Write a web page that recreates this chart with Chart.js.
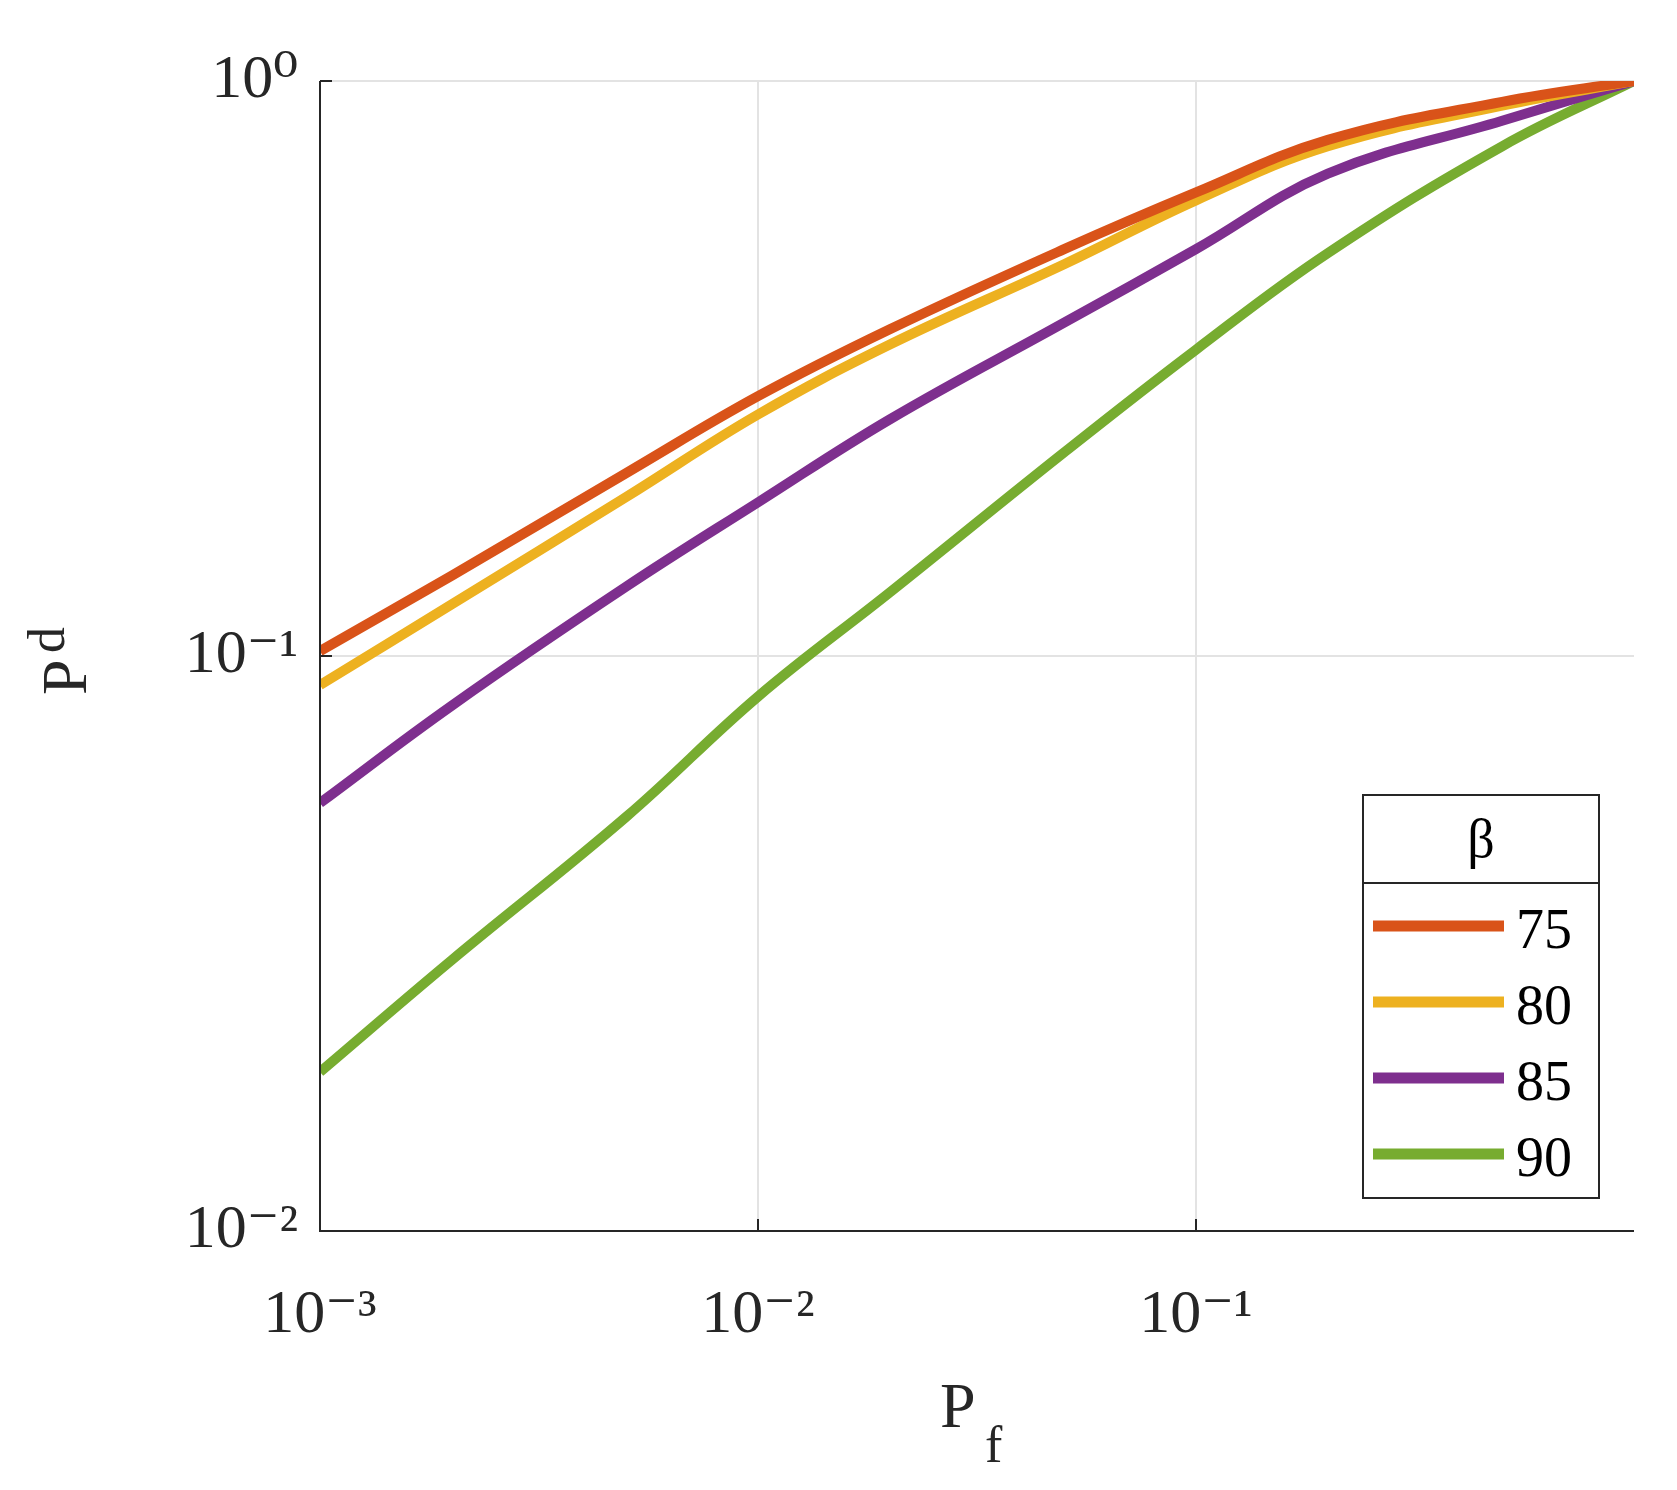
<!DOCTYPE html>
<html>
<head>
<meta charset="utf-8">
<script src="https://cdn.jsdelivr.net/npm/chart.js@4.4.0/dist/chart.umd.min.js"></script>
<style>
  html, body { margin: 0; padding: 0; background: #fff; }
  #wrap { width: 1677px; height: 1490px; }
</style>
</head>
<body>
<div id="wrap"><canvas id="chart" width="1677" height="1490"></canvas></div>
<script>
// Data
const pf = [0.001, 0.002, 0.005, 0.01, 0.02, 0.05, 0.1, 0.2, 0.5, 1];
const betaLabels = ['75', '80', '85', '90'];
const pd75 = [0.102, 0.138, 0.208, 0.283, 0.37, 0.51, 0.64, 0.79, 0.92, 1];
const pd80 = [0.089, 0.123, 0.189, 0.263, 0.348, 0.48, 0.62, 0.77, 0.906, 1];
const pd85 = [0.0555, 0.082, 0.132, 0.185, 0.258, 0.38, 0.51, 0.69, 0.853, 1];
const pd90 = [0.0189, 0.0296, 0.0525, 0.085, 0.129, 0.226, 0.341, 0.502, 0.77, 1];
const colors = ['#D95319', '#EDB120', '#7E2F8E', '#77AC30'];
const xTicks = [0.001, 0.01, 0.1];
const yTicks = [0.01, 0.1, 1];

const SERIF = '"Liberation Serif", "DejaVu Serif", serif';
const sup = { '-': '⁻', '0': '⁰', '1': '¹', '2': '²', '3': '³' };
function pow10Label(v) {
  const e = String(Math.round(Math.log10(v)));
  return '10' + e.split('').map(c => sup[c]).join('');
}

const allSeries = [pd75, pd80, pd85, pd90];
const datasets = allSeries.map((s, i) => ({
  label: betaLabels[i],
  data: pf.map((x, j) => ({ x: x, y: s[j] })),
  borderColor: colors[i],
  borderWidth: 10,
  pointRadius: 0,
  tension: 0.4,
  fill: false
}));

// Axis lines, axis titles and the boxed legend
const decorations = {
  id: 'decorations',
  afterDraw(chart) {
    const ctx = chart.ctx;
    const a = chart.chartArea;
    ctx.save();
    ctx.strokeStyle = '#262626';
    ctx.lineWidth = 2;
    ctx.beginPath();
    ctx.moveTo(a.left, a.top);
    ctx.lineTo(a.left, a.bottom);
    ctx.lineTo(a.right, a.bottom);
    ctx.stroke();
    // inward ticks
    chart.scales.x.ticks.forEach(t => {
      const px = chart.scales.x.getPixelForValue(t.value);
      ctx.beginPath(); ctx.moveTo(px, a.bottom); ctx.lineTo(px, a.bottom - 12); ctx.stroke();
    });
    chart.scales.y.ticks.forEach(t => {
      const py = chart.scales.y.getPixelForValue(t.value);
      ctx.beginPath(); ctx.moveTo(a.left, py); ctx.lineTo(a.left + 12, py); ctx.stroke();
    });

    // axis titles
    ctx.fillStyle = '#262626';
    ctx.font = '64px ' + SERIF;
    ctx.textBaseline = 'alphabetic';
    ctx.textAlign = 'left';
    ctx.fillText('P', 940, 1427);
    ctx.font = '52px ' + SERIF;
    ctx.fillText('f', 985, 1462);
    ctx.save();
    ctx.translate(86, 695);
    ctx.rotate(-Math.PI / 2);
    ctx.font = '64px ' + SERIF;
    ctx.fillText('P', 0, 0);
    ctx.font = '52px ' + SERIF;
    ctx.fillText('d', 42, -22);
    ctx.restore();

    // legend
    const lx = 1363, ly = 795, lw = 236, lh = 403, th = 88;
    ctx.fillStyle = '#fff';
    ctx.fillRect(lx, ly, lw, lh);
    ctx.strokeStyle = '#262626';
    ctx.lineWidth = 2;
    ctx.strokeRect(lx, ly, lw, lh);
    ctx.beginPath(); ctx.moveTo(lx, ly + th); ctx.lineTo(lx + lw, ly + th); ctx.stroke();
    ctx.fillStyle = '#000';
    ctx.font = '54px ' + SERIF;
    ctx.textAlign = 'center';
    ctx.fillText('β', lx + lw / 2, ly + 62);
    ctx.textAlign = 'left';
    chart.data.datasets.forEach((d, i) => {
      const y = 926 + i * 76;
      ctx.strokeStyle = d.borderColor;
      ctx.lineWidth = 11;
      ctx.beginPath(); ctx.moveTo(lx + 10, y); ctx.lineTo(lx + 141, y); ctx.stroke();
      ctx.fillStyle = '#000';
      ctx.font = '56px ' + SERIF;
      ctx.fillText(d.label, lx + 153, y + 22);
    });
    ctx.restore();
  }
};

new Chart(document.getElementById('chart'), {
  type: 'line',
  data: { datasets: datasets },
  plugins: [decorations],
  options: {
    responsive: false,
    animation: false,
    layout: { padding: { top: 81, right: 43, left: 0, bottom: 0 } },
    plugins: { legend: { display: false }, tooltip: { enabled: false } },
    scales: {
      x: {
        type: 'logarithmic',
        min: 0.001, max: 1,
        afterBuildTicks: s => { s.ticks = xTicks.map(v => ({ value: v })); },
        afterFit: s => { s.height = 259; },
        border: { display: false },
        grid: { color: '#e3e3e3', lineWidth: 2, drawTicks: false },
        ticks: {
          callback: v => pow10Label(v),
          color: '#262626', padding: 48, maxRotation: 0,
          font: { family: SERIF, size: 62 }
        }
      },
      y: {
        type: 'logarithmic',
        min: 0.01, max: 1,
        afterBuildTicks: s => { s.ticks = yTicks.map(v => ({ value: v })); },
        afterFit: s => { s.width = 320; },
        border: { display: false },
        grid: { color: '#e3e3e3', lineWidth: 2, drawTicks: false },
        ticks: {
          callback: v => pow10Label(v),
          color: '#262626', padding: 22,
          font: { family: SERIF, size: 62 }
        }
      }
    }
  }
});
</script>
</body>
</html>
